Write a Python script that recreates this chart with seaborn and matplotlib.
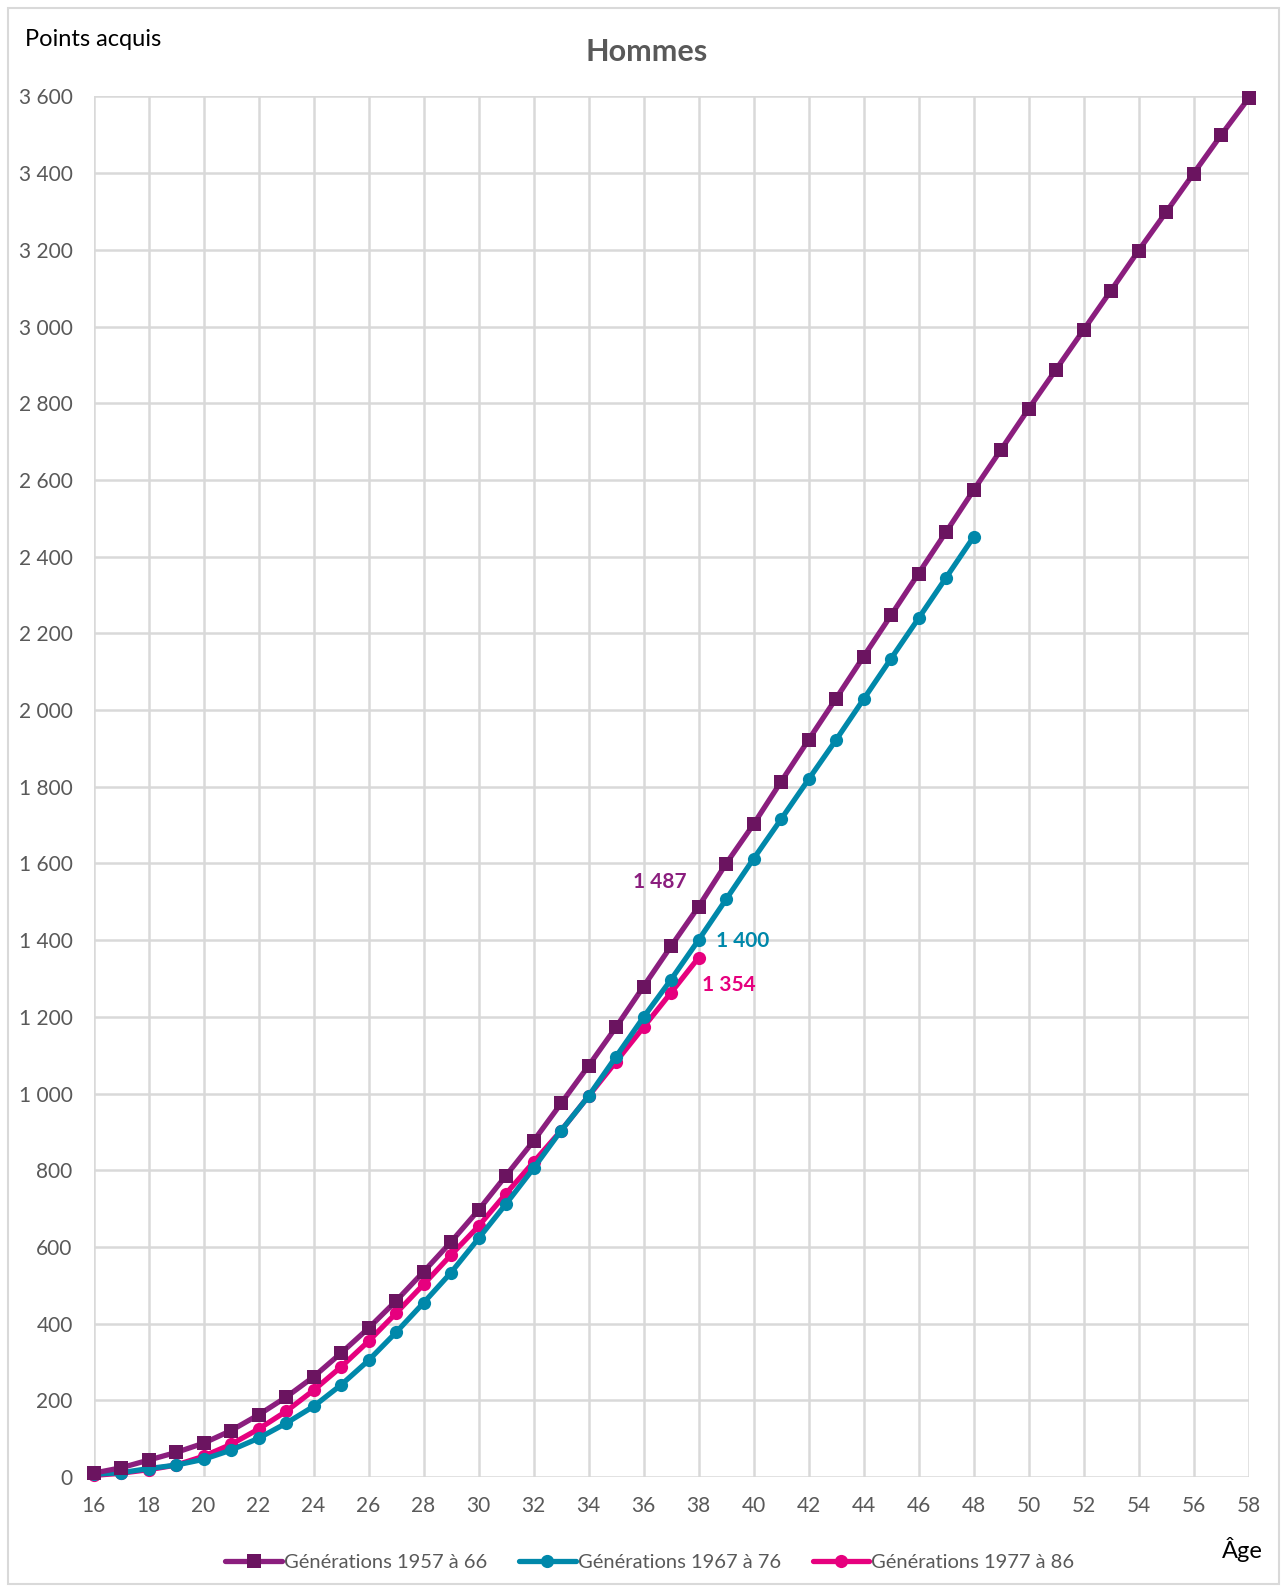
import matplotlib
matplotlib.use("Agg")
import matplotlib.pyplot as plt
import seaborn as sns
import pandas as pd
from matplotlib.ticker import FuncFormatter, MultipleLocator
from matplotlib.patches import Rectangle

# ---- data ----
ages_1957 = list(range(16, 59))
pts_1957 = [10, 24, 44, 64, 88, 121, 162, 208, 261, 323, 388, 459, 535, 613,
            696, 786, 876, 974, 1072, 1173, 1279, 1384, 1487, 1599, 1702, 1813,
            1922, 2030, 2139, 2247, 2356, 2464, 2573, 2679, 2785, 2888, 2991,
            3094, 3198, 3298, 3399, 3499, 3595]
ages_1967 = list(range(16, 49))
pts_1967 = [7, 11, 22, 31, 46, 70, 101, 140, 184, 240, 304, 377, 454, 533,
            622, 712, 805, 903, 993, 1096, 1199, 1297, 1400, 1506, 1612, 1715,
            1819, 1922, 2028, 2134, 2239, 2345, 2451]
ages_1977 = list(range(16, 39))
pts_1977 = [4, 10, 19, 31, 54, 85, 125, 171, 226, 287, 354, 427, 502, 579,
            654, 739, 821, 903, 993, 1083, 1173, 1263, 1354]

labels = ["Générations 1957 à 66", "Générations 1967 à 76", "Générations 1977 à 86"]
end_labels = ["1 487", "1 400", "1 354"]

line_colors = ["#8B1E7E", "#0088AA", "#E6007E"]
marker_colors = ["#6B1460", "#0088AA", "#E6007E"]

sns.set_theme(style="white")
plt.rcParams['font.family'] = ['Lato', 'DejaVu Sans']

fig = plt.figure(figsize=(12.87, 15.92), dpi=100)
W, H = 1287, 1592
ax = fig.add_axes([93.5 / W, 1 - 1477 / H, (1248.5 - 93.5) / W, (1477 - 96.5) / H])

series = [(ages_1957, pts_1957, 's', 10), (ages_1967, pts_1967, 'o', 9.5), (ages_1977, pts_1977, 'o', 9.5)]
for i, (xs, ys, mk, ms) in enumerate(series):
    df = pd.DataFrame({"age": xs, "pts": ys})
    sns.lineplot(data=df, x="age", y="pts", ax=ax, color=line_colors[i], linewidth=3.8,
                 marker=mk, markersize=ms, markerfacecolor=marker_colors[i],
                 markeredgecolor=marker_colors[i], markeredgewidth=0, label=labels[i],
                 clip_on=False, zorder=3 + (2 - i))

ax.set_xlim(16, 58)
ax.set_ylim(0, 3600)
ax.xaxis.set_major_locator(MultipleLocator(2))
ax.yaxis.set_major_locator(MultipleLocator(200))
ax.yaxis.set_major_formatter(FuncFormatter(lambda v, p: f"{int(v):,}".replace(",", " ")))
ax.grid(True, color="#D9D9D9", linewidth=1.8)
ax.set_axisbelow(True)
for s in ax.spines.values():
    s.set_visible(False)
ax.tick_params(axis='both', length=0, labelsize=15, labelcolor="#595959")
ax.tick_params(axis='y', pad=15)
ax.tick_params(axis='x', pad=14)
ax.set_xlabel("")
ax.set_ylabel("")

# end labels
ax.text(36.6, 1551, end_labels[0], color="#8B1E7E", fontsize=15, fontweight='bold', ha='center', va='center')
ax.text(39.6, 1398, end_labels[1], color="#0088AA", fontsize=15, fontweight='bold', ha='center', va='center')
ax.text(39.1, 1284, end_labels[2], color="#E6007E", fontsize=15, fontweight='bold', ha='center', va='center')

# titles
fig.text(647 / W, 1 - 52 / H, "Hommes", fontsize=22, fontweight='bold', color="#595959", ha='center', va='center')
fig.text(25 / W, 1 - 40 / H, "Points acquis", fontsize=17, color="#000000", ha='left', va='center')
fig.text(1242 / W, 1 - 1550 / H, "Âge", fontsize=17, color="#000000", ha='center', va='center')

leg = ax.legend(loc='center', bbox_to_anchor=(650 / W, 1 - 1562 / H), bbox_transform=fig.transFigure,
                ncol=3, frameon=False, fontsize=14.5, handlelength=2.8, handletextpad=0.1,
                columnspacing=1.6)
for t in leg.get_texts():
    t.set_color("#595959")

# outer border
fig.patches.append(Rectangle((8 / W, 8 / H), (W - 16) / W, (H - 16) / H, transform=fig.transFigure,
                             fill=False, edgecolor="#D9D9D9", linewidth=1.5))

fig.savefig("out.png", dpi=100)
